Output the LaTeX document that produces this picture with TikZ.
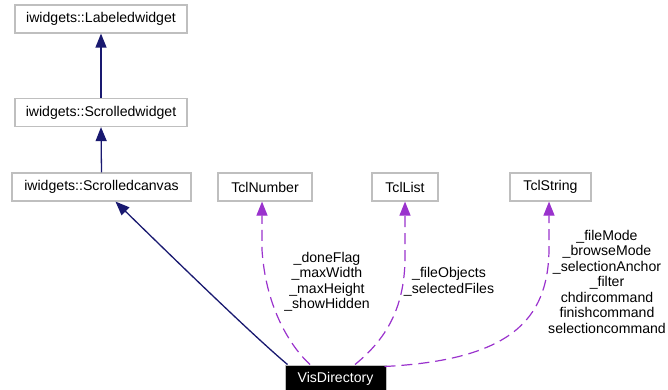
\documentclass[tikz,border=0pt]{standalone}
\usepackage{fontspec}
\setmainfont{Liberation Sans}
\usetikzlibrary{arrows.meta}
\definecolor{edgeblue}{RGB}{25,25,112}
\definecolor{edgepurple}{RGB}{154,50,205}
\definecolor{boxgray}{RGB}{191,191,191}
\begin{document}
\begin{tikzpicture}[x=1pt,y=-1pt,
  every node/.style={font=\fontsize{14.1}{15.5}\selectfont},
  classbox/.style={draw=boxgray,line width=1.2pt,fill=white,minimum height=28pt,inner sep=0pt},
  mainbox/.style={draw=boxgray,line width=1pt,fill=black,text=white,minimum height=27pt,inner sep=0pt},
  inh/.style={draw=edgeblue,line width=1.3pt,-{Triangle[length=14pt,width=11pt]},color=edgeblue},
  usage/.style={draw=edgepurple,line width=1.2pt,dash pattern=on 11pt off 6pt,-{Triangle[length=14pt,width=11pt]},color=edgepurple},
  lbl/.style={align=center,inner sep=0pt}]
\useasboundingbox (0,0) rectangle (668,390);
\node[classbox,minimum width=172pt] (lw) at (101,19) {iwidgets::Labeledwidget};
\node[classbox,minimum width=172pt] (sw) at (101,112.5) {iwidgets::Scrolledwidget};
\node[classbox,minimum width=179pt] (sc) at (101.5,187) {iwidgets::Scrolledcanvas};
\node[classbox,minimum width=94pt] (tn) at (265,187) {TclNumber};
\node[classbox,minimum width=66pt] (tl) at (405,187) {TclList};
\node[classbox,minimum width=81pt] (ts) at (550.5,187) {TclString};
\node[mainbox,minimum width=101pt] (vd) at (335.5,378.5) {VisDirectory};

\draw[inh] (sw.north) -- (lw.south);
\draw[inh] (sc.north) -- (sw.south);
\draw[inh] ([xshift=3pt]vd.north west) .. controls (250,333) and (160,245) .. ([xshift=14pt]sc.south);

\draw[usage] ([xshift=-25.5pt]vd.north) .. controls (292,348) and (266,310) .. (262,250) -- ([xshift=-3pt]tn.south);
\draw[usage] ([xshift=19.5pt]vd.north) .. controls (385,340) and (404,310) .. (405,260) -- (tl.south);
\draw[usage] ([xshift=-2pt,yshift=-2pt]vd.north east) .. controls (510,360) and (548,320) .. (549,250) -- ([xshift=-1.5pt]ts.south);

\node[lbl] (l1) at (327,282) {\_doneFlag\\\_maxWidth\\\_maxHeight\\\_showHidden};
\node[lbl] (l2) at (449,282) {\_fileObjects\\\_selectedFiles};
\node[lbl] (l3) at (607,281.5) {\_fileMode\\\_browseMode\\\_selectionAnchor\\\_filter\\chdircommand\\finishcommand\\selectioncommand};
\end{tikzpicture}
\end{document}
